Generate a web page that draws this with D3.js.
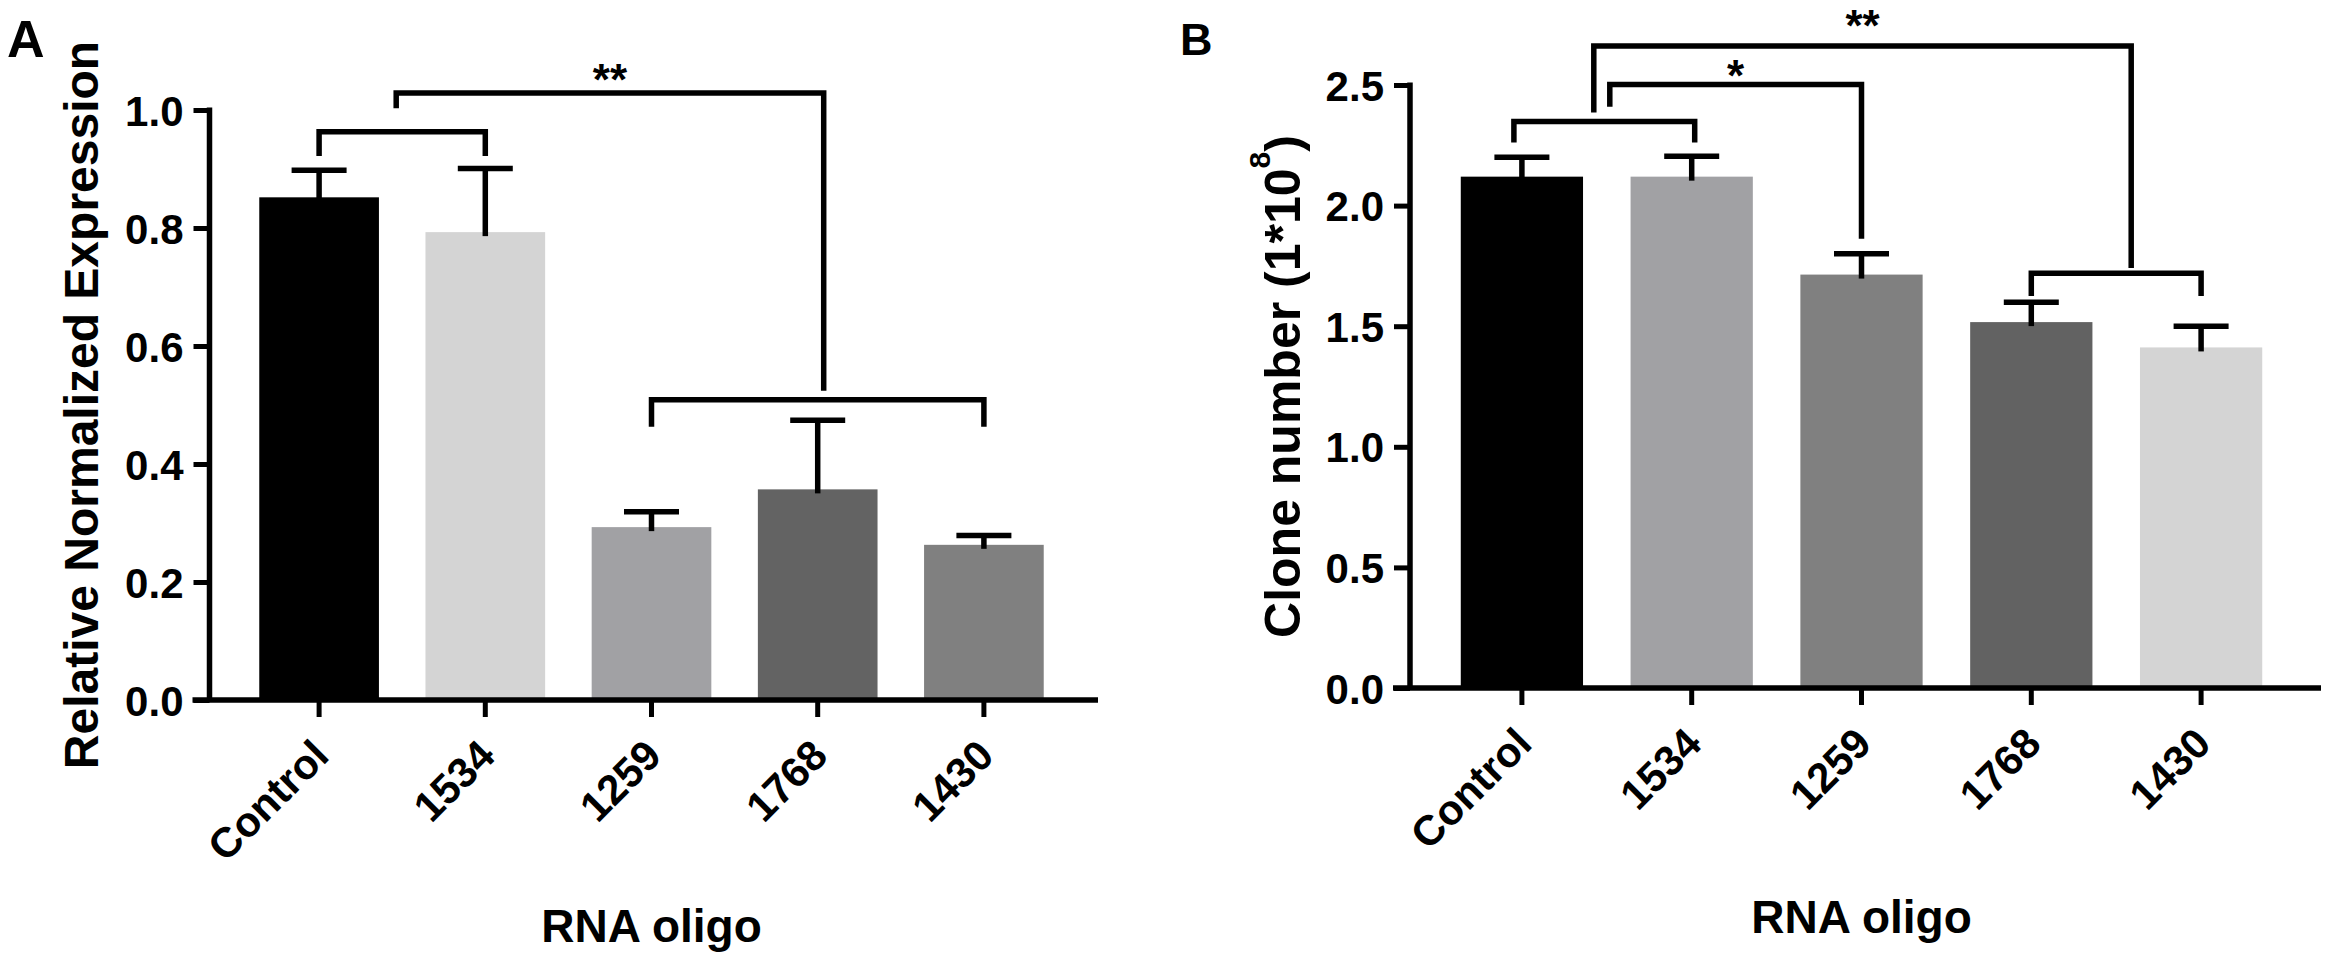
<!DOCTYPE html>
<meta charset="utf-8">
<head>
  <script src="https://d3js.org/d3.v7.min.js"></script>
  <style>
    body { margin: 0; background: #fff; }
    text { font-family: "Liberation Sans", Arial, sans-serif; font-weight: bold; fill: #000; }
  </style>
</head>
<body>
<div id="chart"></div>
<script>
  // ---- data ----
  var groups = ["Control", "1534", "1259", "1768", "1430"];

  // panel A: relative normalized expression (mean, upper SD)
  var expr    = [0.852, 0.793, 0.293, 0.357, 0.263];
  var exprErr = [0.046, 0.108, 0.026, 0.117, 0.016];
  var ticksA  = [0, 0.2, 0.4, 0.6, 0.8, 1.0];

  // panel B: clone number (1*10^8)
  var clones    = [2.12, 2.12, 1.714, 1.517, 1.412];
  var clonesErr = [0.08, 0.085, 0.086, 0.082, 0.088];
  var ticksB    = [0, 0.5, 1.0, 1.5, 2.0, 2.5];

  // significance brackets, heights in data units
  var sigA = [
    {left: ["Control"], right: ["1534"], top: 0.963, leftEnd: 0.922, rightEnd: 0.922, label: ""},
    {left: ["1259"], right: ["1430"], top: 0.509, leftEnd: 0.463, rightEnd: 0.463, label: ""},
    {left: ["Control", "1534"], right: ["1259", "1430"], top: 1.029, leftEnd: 1.003, rightEnd: 0.524, label: "**", labelAt: 1.066}
  ];
  var sigB = [
    {left: ["Control"], right: ["1534"], top: 2.349, leftEnd: 2.262, rightEnd: 2.262, label: ""},
    {left: ["1768"], right: ["1430"], top: 1.720, leftEnd: 1.625, rightEnd: 1.625, label: ""},
    {left: ["Control", "1534"], right: ["1259"], top: 2.502, leftEnd: 2.41, rightEnd: 1.863, label: "*", labelAt: 2.573},
    {left: ["Control", "1534"], right: ["1768", "1430"], top: 2.662, leftEnd: 2.386, rightEnd: 1.741, label: "**", labelAt: 2.782}
  ];

  // ---- styles / layout ----
  var fillA = ["#000000", "#d4d4d4", "#a1a1a4", "#636363", "#808080"];
  var fillB = ["#000000", "#a1a1a4", "#808080", "#626262", "#d4d4d4"];

  var panels = [
    {letter: "A", letterX: 7, letterY: 57, letterSize: 52,
     values: expr, errs: exprErr, ticks: ticksA, fills: fillA, sig: sigA,
     nudge: [[0, 0], [0, 0], [-6, 6]],
     domain: [0, 1], yRange: [700, 110], axisX: 209.5, xRange: [236, 1067], axisEnd: 1098,
     yTitle: ["Relative Normalized Expression"], yTitleX: 98, yTitleSize: 48, xTitleY: 942},
    {letter: "B", letterX: 1180, letterY: 55, letterSize: 45,
     values: clones, errs: clonesErr, ticks: ticksB, fills: fillB, sig: sigB,
     nudge: [[-8, 3], [0, 0], [3, 0], [-13, 15]],
     domain: [0, 2.5], yRange: [688, 85], axisX: 1410, xRange: [1437, 2286], axisEnd: 2321,
     yTitle: ["Clone number (1*10", "8", ")"], yTitleX: 1300, yTitleSize: 50, xTitleY: 933}
  ];

  var svg = d3.select("#chart").append("svg")
      .attr("width", 2329)
      .attr("height", 960);

  panels.forEach(function(p) {
    var g = svg.append("g");

    var x = d3.scaleBand()
        .domain(groups)
        .range(p.xRange)
        .paddingInner(0.28)
        .paddingOuter(0.14);

    var y = d3.scaleLinear()
        .domain(p.domain)
        .range(p.yRange);

    var y0 = y(0);
    var cx = function(d) { return x(d) + x.bandwidth() / 2; };

    // bars
    g.append("g")
      .selectAll("rect")
      .data(groups)
      .enter()
      .append("rect")
        .attr("x", function(d) { return x(d); })
        .attr("width", x.bandwidth())
        .attr("y", function(d, i) { return y(p.values[i]); })
        .attr("height", function(d, i) { return y0 - y(p.values[i]); })
        .attr("fill", function(d, i) { return p.fills[i]; });

    // error bars (upper only, with cap)
    var eb = g.append("g").attr("stroke", "#000").attr("stroke-width", 5.5);
    groups.forEach(function(d, i) {
      var top = y(p.values[i] + p.errs[i]);
      eb.append("line")
        .attr("x1", cx(d)).attr("x2", cx(d))
        .attr("y1", y(p.values[i]) + 4).attr("y2", top);
      eb.append("line")
        .attr("x1", cx(d) - 27.5).attr("x2", cx(d) + 27.5)
        .attr("y1", top).attr("y2", top);
    });

    // y axis
    var ya = g.append("g")
        .attr("transform", "translate(" + p.axisX + ",0)")
        .call(d3.axisLeft(y).tickValues(p.ticks).tickFormat(d3.format(".1f"))
              .tickSize(16).tickPadding(10).tickSizeOuter(0));
    ya.select(".domain").remove();
    ya.selectAll(".tick line").attr("stroke", "#000").attr("stroke-width", 5);
    ya.selectAll(".tick text")
        .attr("font-size", 42)
        .attr("font-family", "'Liberation Sans', Arial, sans-serif")
        .attr("font-weight", "bold")
        .attr("dy", "0.36em");
    ya.append("line")
        .attr("x1", 0).attr("x2", 0)
        .attr("y1", y(p.domain[1]) - 2.5).attr("y2", y0)
        .attr("stroke", "#000").attr("stroke-width", 5.5);

    // x axis
    var xa = g.append("g")
        .attr("transform", "translate(0," + y0 + ")")
        .call(d3.axisBottom(x).tickSize(17).tickFormat(""));
    xa.select(".domain").remove();
    xa.selectAll(".tick line").attr("stroke", "#000").attr("stroke-width", 5);
    xa.selectAll(".tick text").remove();
    xa.selectAll(".tick")
      .append("text")
        .attr("transform", "translate(12,58) rotate(-45)")
        .attr("text-anchor", "end")
        .attr("font-size", 42)
        .text(function(d) { return d; });
    xa.append("line")
        .attr("x1", p.axisX - 17).attr("x2", p.axisEnd)
        .attr("y1", 0).attr("y2", 0)
        .attr("stroke", "#000").attr("stroke-width", 5.5);

    // significance brackets
    var mid = function(list) { return d3.mean(list, cx); };
    var bg = g.append("g");
    p.sig.forEach(function(s, k) {
      var xl = mid(s.left) + p.nudge[k][0],
          xr = mid(s.right) + p.nudge[k][1];
      bg.append("path")
        .attr("d", "M" + xl + "," + y(s.leftEnd) + "V" + y(s.top) + "H" + xr + "V" + y(s.rightEnd))
        .attr("fill", "none")
        .attr("stroke", "#000")
        .attr("stroke-width", 5.5);
      if (s.label) {
        bg.append("text")
          .attr("x", (xl + xr) / 2)
          .attr("y", y(s.labelAt) + 24)
          .attr("text-anchor", "middle")
          .attr("font-size", 44)
          .text(s.label);
      }
    });

    // titles
    var yt = g.append("text")
        .attr("transform", "translate(" + p.yTitleX + "," + ((p.yRange[0] + p.yRange[1]) / 2) + ") rotate(-90)")
        .attr("text-anchor", "middle")
        .attr("font-size", p.yTitleSize);
    yt.append("tspan").text(p.yTitle[0]);
    if (p.yTitle.length > 1) {
      yt.append("tspan").attr("font-size", p.yTitleSize * 0.6).attr("dy", -p.yTitleSize * 0.6).text(p.yTitle[1]);
      yt.append("tspan").attr("dy", p.yTitleSize * 0.6).text(p.yTitle[2]);
    }

    g.append("text")
        .attr("x", (p.xRange[0] + p.xRange[1]) / 2)
        .attr("y", p.xTitleY)
        .attr("text-anchor", "middle")
        .attr("font-size", 46)
        .text("RNA oligo");

    g.append("text")
        .attr("x", p.letterX)
        .attr("y", p.letterY)
        .attr("font-size", p.letterSize)
        .text(p.letter);
  });
</script>
</body>
